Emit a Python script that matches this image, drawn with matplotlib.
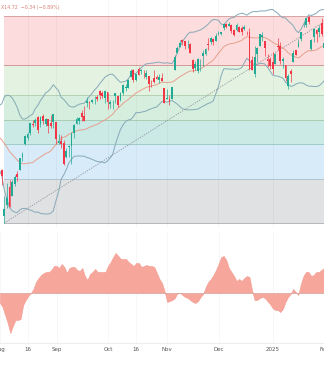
import matplotlib
matplotlib.use("Agg")
import matplotlib.pyplot as plt
import numpy as np

# ---- daily bars, Aug 2024 - Feb 2025 (one entry per trading day) ----
opens = [5537, 5376, 5151, 5206, 5293, 5252, 5311, 5357, 5377, 5442, 5502, 5531, 5557, 5603, 5606, 5637, 5603, 5640, 5602, 5624, 5607, 5613,
         5612, 5507, 5521, 5507, 5443, 5491, 5496, 5558, 5604, 5616, 5655, 5641, 5703, 5709, 5711, 5732, 5733, 5762, 5755, 5727,
         5758, 5698, 5698, 5738, 5737, 5719, 5751, 5778, 5775, 5829, 5866, 5817, 5872, 5860, 5857, 5833, 5834, 5813, 5826, 5831, 5818, 5825, 5775,
         5723, 5725, 5722, 5864, 5947, 5976, 6009, 6004, 5985, 5990, 5913, 5875, 5861, 5917, 5932, 5945, 5992, 6001, 6014, 6004,
         6040, 6042, 6069, 6089, 6081, 6084, 6058, 6060, 6074, 6069, 6063, 6052, 6048, 5912, 5843, 5941, 5984, 6025, 6007, 5920, 5920,
         5904, 5892, 5983, 5983, 5910, 5890, 5789, 5860, 5905, 5960, 5975, 6014, 6082, 6084, 6121, 5969, 6026, 6058, 6050, 6096,
         5970]
highs = [5566, 5383, 5250, 5312, 5331, 5328, 5351, 5374, 5436, 5464, 5546, 5563, 5608, 5620, 5633, 5643, 5642, 5651, 5631, 5627, 5646, 5651,
         5612, 5552, 5546, 5523, 5484, 5501, 5561, 5600, 5636, 5636, 5671, 5690, 5733, 5715, 5725, 5736, 5741, 5767, 5764, 5765,
         5758, 5720, 5718, 5752, 5739, 5757, 5796, 5796, 5822, 5871, 5870, 5843, 5878, 5872, 5866, 5864, 5834, 5817, 5863, 5842, 5847, 5850, 5775,
         5772, 5741, 5784, 5936, 5983, 6012, 6018, 6008, 6009, 5994, 5916, 5909, 5925, 5920, 5964, 5974, 6021, 6025, 6020, 6044,
         6053, 6052, 6089, 6092, 6099, 6088, 6065, 6093, 6080, 6078, 6085, 6057, 6070, 5935, 5982, 5978, 6040, 6050, 6007, 5941, 5929,
         5951, 5950, 6021, 6001, 5928, 5890, 5843, 5871, 5960, 5964, 6014, 6051, 6100, 6119, 6128, 6018, 6069, 6063, 6086, 6120,
         6022]
lows = [5383, 5302, 5119, 5193, 5195, 5250, 5300, 5324, 5377, 5419, 5501, 5526, 5550, 5585, 5592, 5560, 5586, 5602, 5594, 5560, 5584, 5581,
        5503, 5504, 5486, 5402, 5434, 5441, 5406, 5535, 5601, 5604, 5615, 5615, 5686, 5675, 5704, 5699, 5712, 5725, 5730, 5703,
        5674, 5678, 5677, 5703, 5683, 5714, 5745, 5763, 5775, 5829, 5804, 5809, 5840, 5846, 5824, 5822, 5762, 5784, 5800, 5823, 5802, 5811, 5703,
        5723, 5696, 5722, 5864, 5947, 5976, 5985, 5965, 5971, 5946, 5854, 5865, 5851, 5861, 5882, 5939, 5963, 5993, 5985, 6004,
        6033, 6033, 6062, 6071, 6079, 6045, 6030, 6054, 6051, 6034, 6059, 6036, 5867, 5866, 5832, 5903, 5981, 6004, 5932, 5880, 5870,
        5843, 5892, 5961, 5892, 5874, 5809, 5773, 5805, 5905, 5938, 5975, 6006, 6076, 6075, 6088, 5962, 6000, 6001, 6028, 6031,
        5923]
closes = [5410, 5346, 5186, 5240, 5199, 5319, 5344, 5344, 5434, 5455, 5543, 5554, 5608, 5597, 5621, 5571, 5634, 5616, 5625, 5592, 5591, 5648,
          5528, 5520, 5503, 5408, 5471, 5496, 5554, 5596, 5626, 5633, 5634, 5618, 5714, 5703, 5718, 5732, 5722, 5745, 5738, 5762,
          5709, 5709, 5699, 5751, 5696, 5751, 5793, 5780, 5815, 5859, 5815, 5843, 5841, 5865, 5853, 5851, 5797, 5809, 5808, 5823, 5832, 5813, 5705,
          5729, 5712, 5782, 5929, 5973, 5996, 6001, 5984, 5985, 5949, 5871, 5893, 5917, 5917, 5948, 5969, 5987, 6021, 5999, 6032,
          6047, 6050, 6087, 6075, 6090, 6053, 6034, 6084, 6051, 6051, 6074, 6050, 5872, 5867, 5930, 5974, 6040, 6037, 5971, 5907, 5882,
          5869, 5942, 5975, 5909, 5918, 5827, 5836, 5843, 5950, 5937, 5997, 6049, 6086, 6119, 6101, 6012, 6067, 6039, 6071, 6041,
          5994]

# bollinger band basis and half-width, one per bar
bb_mid = [5536, 5525, 5506, 5489, 5467, 5454, 5440, 5426, 5414, 5408, 5408, 5410, 5412, 5414, 5424, 5433, 5441, 5449, 5458, 5462, 5471, 5486,
          5503, 5517, 5532, 5537, 5543, 5551, 5557, 5564, 5568, 5572, 5573, 5574, 5579, 5586, 5590, 5596, 5600, 5608, 5615, 5621,
          5630, 5640, 5649, 5666, 5678, 5690, 5702, 5712, 5721, 5732, 5741, 5753, 5759, 5767, 5774, 5780, 5784, 5787, 5790, 5793, 5800, 5805, 5805,
          5804, 5805, 5806, 5813, 5823, 5832, 5839, 5847, 5854, 5860, 5860, 5862, 5865, 5871, 5878, 5886, 5895, 5904, 5913, 5930,
          5946, 5962, 5978, 5985, 5991, 5994, 5995, 6000, 6004, 6009, 6019, 6027, 6025, 6022, 6021, 6021, 6024, 6025, 6023, 6017, 6009,
          6000, 5993, 5988, 5979, 5972, 5962, 5949, 5939, 5934, 5927, 5924, 5933, 5944, 5953, 5960, 5958, 5960, 5963, 5971, 5979,
          5986]
bb_width = [156, 175, 228, 253, 273, 275, 268, 256, 231, 218, 218, 223, 230, 236, 253, 260, 275, 285, 295, 299, 304, 307,
            275, 247, 200, 184, 164, 139, 128, 120, 123, 126, 128, 129, 141, 151, 161, 172, 181, 191, 199, 209,
            208, 204, 195, 165, 139, 115, 105, 98, 100, 108, 104, 96, 102, 108, 112, 115, 112, 111, 109, 109, 103, 95, 93,
            96, 93, 90, 105, 124, 145, 163, 174, 184, 189, 189, 189, 191, 189, 190, 191, 193, 198, 198, 180,
            161, 127, 108, 114, 122, 125, 126, 132, 134, 133, 119, 105, 116, 126, 129, 128, 128, 128, 129, 139, 150,
            160, 157, 153, 149, 147, 157, 155, 154, 146, 131, 123, 131, 144, 162, 174, 172, 176, 179, 183, 180,
            173]

# lower-pane oscillator
osc = [-10, -14, -22, -30, -40, -33, -27, -27, -26, -12, -7, -3, 0, 4, 11, 15, 18, 20, 21, 21, 23, 27,
       27, 25, 29, 26, 20, 25, 26, 26, 23, 22, 25, 17, 13, 19, 21, 24, 21, 21, 21, 21,
       27, 31, 36, 40, 37, 34, 34, 34, 31, 29, 27, 30, 30, 26, 27, 28, 27, 27, 26, 20, 14, 10, 2,
       -9, -8, -7, -5, 0, 0, -2, -4, -5, -7, -9, -10, -8, -4, -1, 6, 11, 14, 18, 23,
       29, 36, 37, 33, 25, 21, 17, 12, 14, 12, 15, 17, 16, 3, -7, -7, -5, -4, -5, -8, -11,
       -15, -17, -17, -19, -16, -9, -4, -1, 4, 1, -2, 9, 17, 21, 21, 17, 18, 21, 21, 23,
       25]

tick_pos = [0, 11, 22, 42, 53, 65, 85, 106, 126]
tick_lab = ["Aug", "16", "Sep", "Oct", "16", "Nov", "Dec", "2025", "Feb"]

fib_low, fib_high = 5119, 6128
trend_x = [2, 126]
trend_y = [5119, 6100]

H = 366
fig = plt.figure(figsize=(3.24, 3.66), dpi=100)
ax = fig.add_axes([0, (H - 228) / H, 1, 228 / H])
ax2 = fig.add_axes([0, (H - 343) / H, 1, (343 - 232) / H])

n = len(closes)
xs = np.arange(n)
xl = (0.31, 125.9)

# fib retracement zones
levels = [0, 0.236, 0.382, 0.5, 0.618, 0.786, 1.0]
fills = ["#fcdcdc", "#e4f2e1", "#d6eedd", "#cbe9e5", "#d8ebf9", "#e0e1e3"]
lcols = ["#d9a3a3", "#d39a98", "#b5d2b3", "#a8cdb3", "#9fcbc6", "#b3c3d0", "#b5b7ba"]
prices = [fib_high - lv * (fib_high - fib_low) for lv in levels]
for k in range(6):
    ax.fill_between([2, xl[1] + 2], prices[k + 1], prices[k], color=fills[k], lw=0, zorder=1)
for k, p in enumerate(prices):
    ax.plot([2, xl[1] + 2], [p, p], color=lcols[k], lw=0.7, zorder=2)

for p in tick_pos:
    ax.axvline(p, color="#000000", alpha=0.04, lw=0.6, zorder=2)
    ax2.axvline(p, color="#000000", alpha=0.04, lw=0.6, zorder=0)

mid = np.array(bb_mid, dtype=float)
wid = np.array(bb_width, dtype=float)
ax.plot(xs, mid + wid, color="#86a9b8", lw=0.7, zorder=3)
ax.plot(xs, mid - wid, color="#86a9b8", lw=0.7, zorder=3)
ax.plot(xs, mid, color="#e8a08e", lw=0.7, zorder=3)
ax.plot(trend_x, trend_y, color="#8d929b", lw=0.6, ls=(0, (1.5, 1.5)), zorder=3)

# candles
up = np.array(closes) >= np.array(opens)
cols = np.where(up, "#22ab94", "#f23645")
ax.vlines(xs, lows, highs, colors=cols, lw=0.5, zorder=4)
bot = np.minimum(opens, closes)
hgt = np.maximum(np.abs(np.array(closes) - np.array(opens)), 1.5)
ax.bar(xs, hgt, bottom=bot, width=0.7, color=cols, lw=0, zorder=5)

ax.set_xlim(*xl)
ax.set_ylim(5094.7, 6206)
ax.axis("off")
fig.text(0.002, 1 - 7 / H, "X14.72  \u22120.34 (\u22120.89%)", fontsize=3.4,
         color="#d98078", va="center", ha="left")

# oscillator pane
osc = np.array(osc, dtype=float)
ax2.fill_between(xs, 0, osc, color="#f7a69c", lw=0.4, edgecolor="#f49a8f", zorder=2)
ax2.axhline(0, color="#b0b0b0", lw=0.5, ls=(0, (1, 1)), zorder=3)
ax2.set_xlim(*xl)
ax2.set_ylim(-50, 61)
for s in ["top", "left", "right"]:
    ax2.spines[s].set_visible(False)
ax2.spines["bottom"].set_color("#e6e6e6")
ax2.spines["bottom"].set_linewidth(0.5)
ax2.set_yticks([])
ax2.set_xticks(tick_pos)
ax2.set_xticklabels(tick_lab)
ax2.tick_params(axis="x", length=0, pad=3, labelsize=4, labelcolor="#555555")

fig.savefig("out.png", dpi=100)
